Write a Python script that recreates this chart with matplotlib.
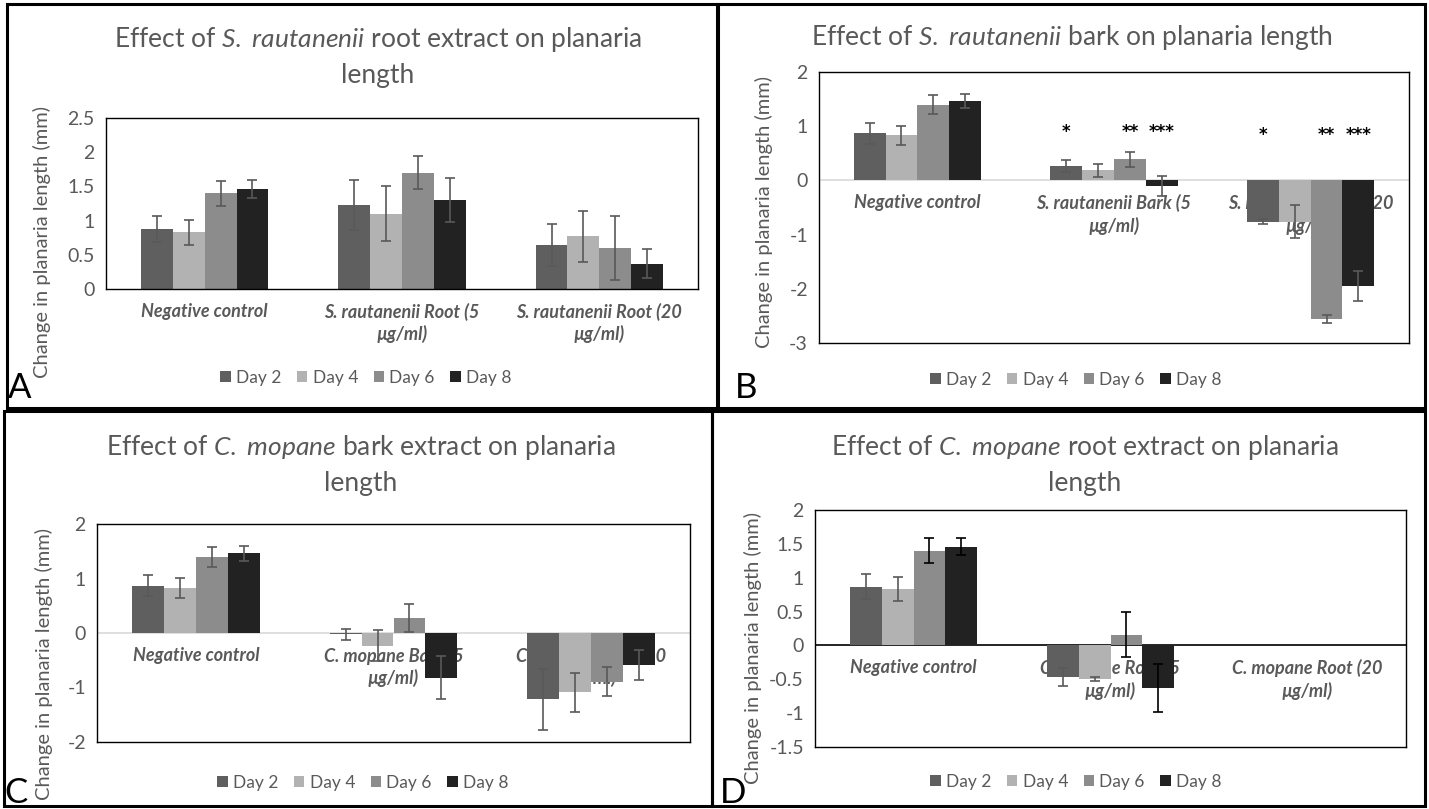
import numpy as np
import matplotlib
matplotlib.use('Agg')
import matplotlib.pyplot as plt
from matplotlib.patches import Rectangle

plt.rcParams['font.family'] = ['Lato', 'DejaVu Sans']
plt.rcParams['mathtext.fontset'] = 'custom'
plt.rcParams['mathtext.rm'] = 'Lato'
plt.rcParams['mathtext.it'] = 'Lato:italic'
plt.rcParams['axes.unicode_minus'] = False

days = ['Day 2', 'Day 4', 'Day 6', 'Day 8']
day_colors = ['#5f5f5f', '#b2b2b2', '#8c8c8c', '#222222']

# negative control, same in every panel
neg_mean = [0.87, 0.83, 1.40, 1.46]
neg_err = [0.19, 0.18, 0.18, 0.13]

# A - S. rautanenii root
sr_root_groups = ['Negative control', 'S. rautanenii Root (5\nµg/ml)', 'S. rautanenii Root (20\nµg/ml)']
sr_root5_mean = [1.23, 1.10, 1.70, 1.30]
sr_root5_err = [0.37, 0.40, 0.24, 0.32]
sr_root20_mean = [0.64, 0.77, 0.60, 0.37]
sr_root20_err = [0.31, 0.37, 0.47, 0.21]

# B - S. rautanenii bark
sr_bark_groups = ['Negative control', 'S. rautanenii Bark (5\nµg/ml)', 'S. rautanenii Bark (20\nµg/ml)']
sr_bark5_mean = [0.27, 0.19, 0.39, -0.10]
sr_bark5_err = [0.11, 0.12, 0.14, 0.18]
sr_bark20_mean = [-0.76, -0.76, -2.56, -1.95]
sr_bark20_err = [0.05, 0.30, 0.08, 0.27]
sr_bark_stars = [['', '', '', ''], ['*', '', '**', '***'], ['*', '', '**', '***']]

# C - C. mopane bark
cm_bark_groups = ['Negative control', 'C. mopane Bark (5\nµg/ml)', 'C. mopane Bark (20\nµg/ml)']
cm_bark5_mean = [-0.02, -0.23, 0.27, -0.82]
cm_bark5_err = [0.10, 0.28, 0.26, 0.40]
cm_bark20_mean = [-1.22, -1.09, -0.89, -0.59]
cm_bark20_err = [0.56, 0.36, 0.27, 0.28]

# D - C. mopane root (no data for 20 ug/ml)
cm_root_groups = ['Negative control', 'C. mopane Root (5\nµg/ml)', 'C. mopane Root (20\nµg/ml)']
cm_root5_mean = [-0.47, -0.50, 0.16, -0.63]
cm_root5_err = [0.13, 0.03, 0.33, 0.35]
cm_root20_mean = [np.nan, np.nan, np.nan, np.nan]
cm_root20_err = [np.nan, np.nan, np.nan, np.nan]

W, H = 1429, 809
GRAY = '#595959'

fig = plt.figure(figsize=(W / 100, H / 100), dpi=100)


def px_rect(l, t, r, b):
    return [l / W, 1 - b / H, (r - l) / W, (b - t) / H]


def draw_panel(box, ylim, yticks, groups, means, errs, zero_color=None,
               err_colors=None, stars=None, star_y=None):
    ax = fig.add_axes(px_rect(*box))
    means = np.array(means, dtype=float)
    errs = np.array(errs, dtype=float)
    x = np.arange(len(groups))
    w = 1 / 6.19
    if err_colors is None:
        err_colors = [GRAY] * 4
    for j in range(4):
        xs = x + (j - 1.5) * w
        ax.bar(xs, means[:, j], w, color=day_colors[j], label=days[j], zorder=2,
               yerr=errs[:, j],
               error_kw=dict(ecolor=err_colors[j], elinewidth=1.2, capsize=3.5,
                             capthick=1.2, zorder=3))
        if stars is not None:
            for i in range(len(groups)):
                if stars[i][j]:
                    ax.text(xs[i], star_y[i], stars[i][j], ha='center',
                            va='center', fontsize=12, fontweight='bold', color='black',
                            zorder=4, family='DejaVu Sans')
    if zero_color is not None:
        ax.axhline(0, color=zero_color, lw=1.2, zorder=1.5)
    for i, g in enumerate(groups):
        ax.annotate(g, xy=(i, 0), xytext=(0, -10), textcoords='offset points',
                    ha='center', va='top', fontsize=13, fontweight='bold',
                    fontstyle='italic', color=GRAY, zorder=1, linespacing=1.3)
    ax.set_xlim(-0.5, len(groups) - 0.5)
    ax.set_ylim(*ylim)
    ax.set_yticks(yticks)
    ax.set_yticklabels([f'{v:g}' for v in yticks])
    ax.set_xticks([])
    ax.tick_params(axis='y', length=0, pad=8, labelsize=14, labelcolor=GRAY)
    for s in ax.spines.values():
        s.set_color('black')
        s.set_linewidth(1.0)
    return ax


ax_a = draw_panel((106, 118, 698, 289), (0, 2.5), np.arange(0, 2.51, 0.5),
                  sr_root_groups,
                  [neg_mean, sr_root5_mean, sr_root20_mean],
                  [neg_err, sr_root5_err, sr_root20_err])
ax_b = draw_panel((819, 72, 1409, 343), (-3, 2), np.arange(-3, 2.1, 1),
                  sr_bark_groups,
                  [neg_mean, sr_bark5_mean, sr_bark20_mean],
                  [neg_err, sr_bark5_err, sr_bark20_err],
                  zero_color='#d9d9d9', stars=sr_bark_stars, star_y=[0, 0.90, 0.84])
ax_c = draw_panel((97, 524, 690, 742), (-2, 2), np.arange(-2, 2.1, 1),
                  cm_bark_groups,
                  [neg_mean, cm_bark5_mean, cm_bark20_mean],
                  [neg_err, cm_bark5_err, cm_bark20_err],
                  zero_color='#d9d9d9')
ax_d = draw_panel((815, 510, 1406, 747), (-1.5, 2), np.arange(-1.5, 2.01, 0.5),
                  cm_root_groups,
                  [neg_mean, cm_root5_mean, cm_root20_mean],
                  [neg_err, cm_root5_err, cm_root20_err],
                  zero_color='black', err_colors=[GRAY, GRAY, 'black', 'black'])

# titles
title_kw = dict(ha='center', va='center', fontsize=19, color=GRAY, linespacing=1.45)
fig.text(378 / W, 1 - 57 / H,
         'Effect of $\\mathit{S.}$ $\\mathit{rautanenii}$ root extract on planaria\nlength', **title_kw)
fig.text(1072 / W, 1 - 37 / H,
         'Effect of $\\mathit{S.}$ $\\mathit{rautanenii}$ bark on planaria length', **title_kw)
fig.text(361 / W, 1 - 465 / H,
         'Effect of $\\mathit{C.}$ $\\mathit{mopane}$ bark extract on planaria\nlength', **title_kw)
fig.text(1085 / W, 1 - 464 / H,
         'Effect of $\\mathit{C.}$ $\\mathit{mopane}$ root extract on planaria\nlength', **title_kw)

# y labels
ylab = 'Change in planaria length (mm)'
for xp, yp in [(42, 242), (764, 212), (44, 664), (753, 648)]:
    fig.text(xp / W, 1 - yp / H, ylab, rotation=90, ha='center', va='center',
             fontsize=14.5, color=GRAY)

# legends
handles, labels = ax_a.get_legend_handles_labels()
for xp, yp in [(366, 378), (1076, 380), (363, 783), (1076, 782)]:
    fig.legend(handles, labels, loc='center', bbox_to_anchor=(xp / W, 1 - yp / H),
               ncol=4, frameon=False, fontsize=12.5, labelcolor=GRAY,
               handlelength=0.6, handleheight=0.6, handletextpad=0.3,
               columnspacing=0.9)

# panel letters
for letter, xp, yp in [('A', 8, 388), ('B', 735, 388), ('C', 4, 793), ('D', 720, 793)]:
    fig.text(xp / W, 1 - yp / H, letter, ha='left', va='center', fontsize=25, color='black')

# panel frames
for l, t, r, b in [(7, 4, 717, 408), (718, 4, 1425, 408), (4, 411, 712, 806), (712, 411, 1425, 806)]:
    fig.add_artist(Rectangle((l / W, 1 - b / H), (r - l) / W, (b - t) / H,
                             transform=fig.transFigure, fill=False, lw=2.2, ec='black'))

fig.savefig('out.png', dpi=100)
